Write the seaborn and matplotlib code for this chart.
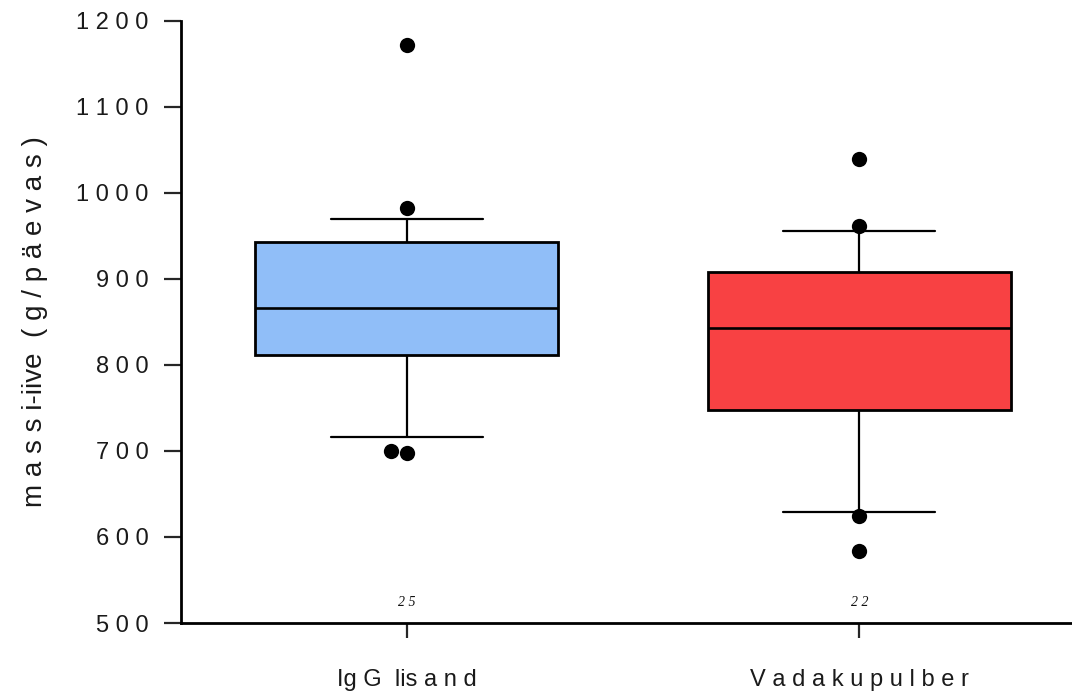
import matplotlib
matplotlib.use("Agg")
import matplotlib.pyplot as plt
import seaborn as sns
import pandas as pd

# ---- data ----
groups = ["Ig G  lis a n d", "V a d a k u p u l b e r"]
# five-number summaries: lower whisker, Q1, median, Q3, upper whisker
summary_igg = [716, 811, 866, 943, 969]
summary_vadak = [629, 748, 843, 908, 955]
outliers_igg = [1172, 982, 700, 697]
outliers_vadak = [1039, 961, 624, 584]
n_labels = ["2 5", "2 2"]
colors = ["#90BEF8", "#F84143"]
yticks = [500, 600, 700, 800, 900, 1000, 1100, 1200]
ytick_labels = [" ".join(str(t)) for t in yticks]

box_df = pd.DataFrame({
    "group": [groups[0]] * len(summary_igg) + [groups[1]] * len(summary_vadak),
    "value": summary_igg + summary_vadak,
})
out_df = pd.DataFrame({
    "group": [groups[0]] * len(outliers_igg) + [groups[1]] * len(outliers_vadak),
    "value": outliers_igg + outliers_vadak,
})

sns.set_style("white")
plt.rcParams["font.family"] = ["Liberation Sans", "DejaVu Sans"]

fig = plt.figure(figsize=(10.72, 6.97), dpi=100)
ax = fig.add_axes([181 / 1072, 1 - 623 / 697, 1 - 181 / 1072, (623 - 20.5) / 697])

lw = 1.6
sns.boxplot(data=box_df, x="group", y="value", hue="group", order=groups,
            hue_order=groups, palette=colors, saturation=1, width=0.67,
            whis=(0, 100), linecolor="black", linewidth=lw, legend=False,
            showfliers=False, ax=ax,
            boxprops=dict(linewidth=2.0),
            medianprops=dict(linewidth=1.9, color="black"))

sns.swarmplot(data=out_df, x="group", y="value", order=groups, color="black",
              size=11, ax=ax, zorder=5)

for i, lab in enumerate(n_labels):
    ax.text(i, 524, lab, ha="center", va="center", fontsize=10,
            family="Liberation Serif", style="italic", color="#111111")

ax.set_xlim(-0.4987, 1.47)
ax.set_ylim(500, 1200)
ax.set_yticks(yticks)
ax.set_yticklabels(ytick_labels)
ax.set_xlabel("")
ax.set_ylabel("")
fig.text(35 / 1072, 1 - 322 / 697, "m a s s i-iive  ( g / p ä e v a s )",
         rotation=90, ha="center", va="center", fontsize=20, color="#1a1a1a")

for side in ["top", "right"]:
    ax.spines[side].set_visible(False)
for side in ["left", "bottom"]:
    ax.spines[side].set_linewidth(2.0)
    ax.spines[side].set_color("black")

ax.tick_params(axis="y", length=12, width=1.6, pad=11.5, labelsize=17,
               labelcolor="#1a1a1a", direction="out", left=True)
ax.tick_params(axis="x", length=11, width=1.6, pad=22, labelsize=17,
               labelcolor="#1a1a1a", direction="out", bottom=True)

fig.savefig("out.png", dpi=100)
